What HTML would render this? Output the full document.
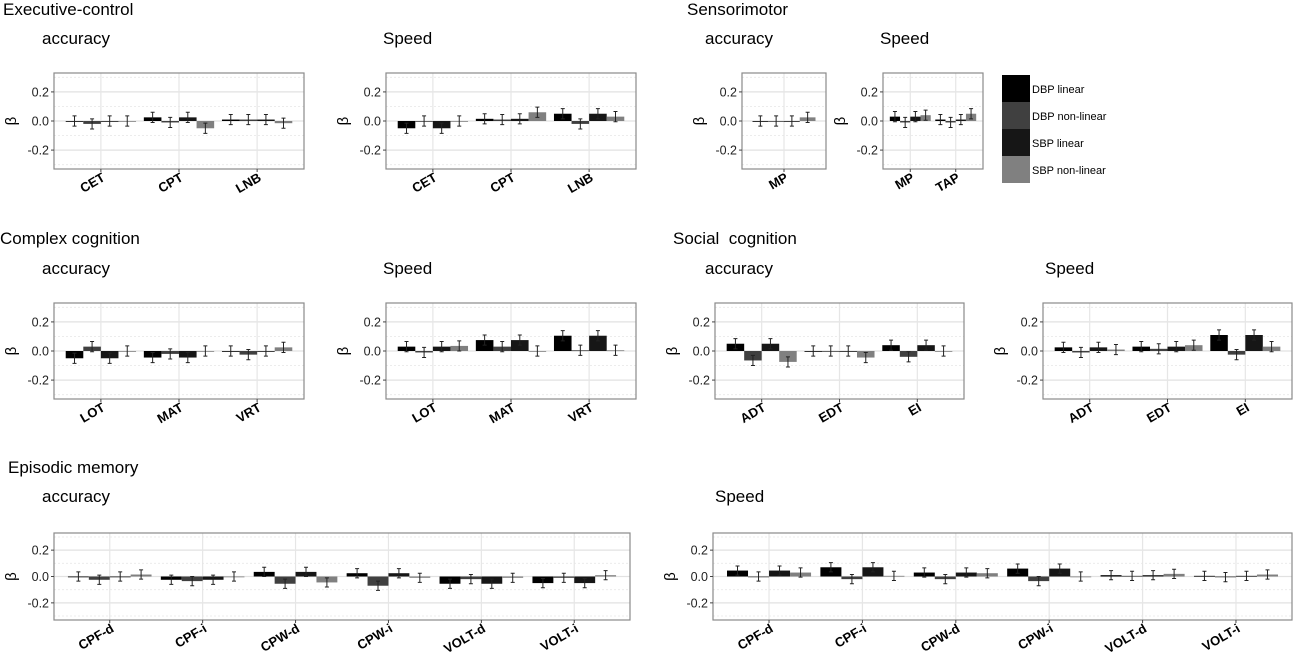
<!DOCTYPE html>
<html><head><meta charset="utf-8"><style>
html,body{margin:0;padding:0;background:#fff;}
svg{display:block;font-family:"Liberation Sans",Arial,sans-serif;}
</style></head><body>
<svg id="c" width="1300" height="656" viewBox="0 0 1300 656">
<g font-size="17" fill="#000">
<text x="3" y="15">Executive-control</text>
<text x="42" y="44">accuracy</text>
<text x="383" y="44">Speed</text>
<text x="687" y="15">Sensorimotor</text>
<text x="705" y="44">accuracy</text>
<text x="880" y="44">Speed</text>
<text x="0" y="244">Complex cognition</text>
<text x="42" y="274">accuracy</text>
<text x="383" y="274">Speed</text>
<text x="673" y="244" xml:space="preserve">Social  cognition</text>
<text x="705" y="274">accuracy</text>
<text x="1045" y="274">Speed</text>
<text x="8" y="473">Episodic memory</text>
<text x="42" y="502">accuracy</text>
<text x="715" y="502">Speed</text>
</g>
<g id="legend">
<rect x="1002" y="75" width="28" height="27" fill="#000"/>
<rect x="1002" y="102" width="28" height="27" fill="#404040"/>
<rect x="1002" y="129" width="28" height="27" fill="#161616"/>
<rect x="1002" y="156" width="28" height="27" fill="#808080"/>
<g font-size="11">
<text x="1032" y="93">DBP linear</text>
<text x="1032" y="120">DBP non-linear</text>
<text x="1032" y="147">SBP linear</text>
<text x="1032" y="174">SBP non-linear</text>
</g></g>
</svg>
<script>
const seriesNames=["dbp-linear","dbp-nonlinear","sbp-linear","sbp-nonlinear"];
const seriesColors=["#000","#404040","#161616","#808080"];
const yTicks=[-0.2,0,0.2];
const yTickLabels=["-0.2","0.0","0.2"];
const errHalf=0.035;

const execAccCats=["CET","CPT","LNB"];
const execAccDbpLin=[0,0.025,0.01];
const execAccDbpNl=[-0.02,-0.01,0.01];
const execAccSbpLin=[0,0.025,0.01];
const execAccSbpNl=[0,-0.05,-0.015];

const execSpdCats=["CET","CPT","LNB"];
const execSpdDbpLin=[-0.05,0.015,0.05];
const execSpdDbpNl=[0,0.01,-0.02];
const execSpdSbpLin=[-0.05,0.015,0.05];
const execSpdSbpNl=[0,0.06,0.03];

const senAccCats=["MP"];
const senAccDbpLin=[0];
const senAccDbpNl=[0];
const senAccSbpLin=[0];
const senAccSbpNl=[0.025];

const senSpdCats=["MP","TAP"];
const senSpdDbpLin=[0.03,0.01];
const senSpdDbpNl=[-0.01,-0.01];
const senSpdSbpLin=[0.03,0.01];
const senSpdSbpNl=[0.04,0.05];

const cplxAccCats=["LOT","MAT","VRT"];
const cplxAccDbpLin=[-0.05,-0.045,0];
const cplxAccDbpNl=[0.03,-0.02,-0.025];
const cplxAccSbpLin=[-0.05,-0.045,0];
const cplxAccSbpNl=[0,0,0.025];

const cplxSpdCats=["LOT","MAT","VRT"];
const cplxSpdDbpLin=[0.03,0.075,0.105];
const cplxSpdDbpNl=[-0.01,0.03,0.005];
const cplxSpdSbpLin=[0.03,0.075,0.105];
const cplxSpdSbpNl=[0.035,0,0.005];

const socAccCats=["ADT","EDT","EI"];
const socAccDbpLin=[0.05,0,0.04];
const socAccDbpNl=[-0.065,0,-0.04];
const socAccSbpLin=[0.05,0,0.04];
const socAccSbpNl=[-0.075,-0.045,0];

const socSpdCats=["ADT","EDT","EI"];
const socSpdDbpLin=[0.025,0.03,0.11];
const socSpdDbpNl=[-0.01,0.015,-0.025];
const socSpdSbpLin=[0.025,0.03,0.11];
const socSpdSbpNl=[0.01,0.04,0.03];

const epiAccCats=["CPF-d","CPF-i","CPW-d","CPW-i","VOLT-d","VOLT-i"];
const epiAccDbpLin=[0,-0.025,0.035,0.025,-0.055,-0.05];
const epiAccDbpNl=[-0.025,-0.035,-0.055,-0.07,-0.02,-0.01];
const epiAccSbpLin=[0,-0.025,0.035,0.025,-0.055,-0.05];
const epiAccSbpNl=[0.015,0,-0.045,-0.01,-0.01,0.01];

const epiSpdCats=["CPF-d","CPF-i","CPW-d","CPW-i","VOLT-d","VOLT-i"];
const epiSpdDbpLin=[0.045,0.07,0.03,0.06,0.01,0.005];
const epiSpdDbpNl=[0,-0.02,-0.02,-0.035,0.005,-0.005];
const epiSpdSbpLin=[0.045,0.07,0.03,0.06,0.01,0.005];
const epiSpdSbpNl=[0.03,0.005,0.025,0,0.02,0.015];

const panels=[
 {name:"exec-accuracy",x0:54,x1:304,y0:73,y1:169,cats:execAccCats,series:[execAccDbpLin,execAccDbpNl,execAccSbpLin,execAccSbpNl]},
 {name:"exec-speed",x0:386,x1:636,y0:73,y1:169,cats:execSpdCats,series:[execSpdDbpLin,execSpdDbpNl,execSpdSbpLin,execSpdSbpNl]},
 {name:"sensorimotor-accuracy",x0:742,x1:826,y0:73,y1:169,cats:senAccCats,series:[senAccDbpLin,senAccDbpNl,senAccSbpLin,senAccSbpNl]},
 {name:"sensorimotor-speed",x0:883,x1:983,y0:73,y1:169,cats:senSpdCats,series:[senSpdDbpLin,senSpdDbpNl,senSpdSbpLin,senSpdSbpNl]},
 {name:"complex-accuracy",x0:54,x1:304,y0:303,y1:399,cats:cplxAccCats,series:[cplxAccDbpLin,cplxAccDbpNl,cplxAccSbpLin,cplxAccSbpNl]},
 {name:"complex-speed",x0:386,x1:636,y0:303,y1:399,cats:cplxSpdCats,series:[cplxSpdDbpLin,cplxSpdDbpNl,cplxSpdSbpLin,cplxSpdSbpNl]},
 {name:"social-accuracy",x0:715,x1:964,y0:303,y1:399,cats:socAccCats,series:[socAccDbpLin,socAccDbpNl,socAccSbpLin,socAccSbpNl]},
 {name:"social-speed",x0:1043,x1:1292,y0:303,y1:399,cats:socSpdCats,series:[socSpdDbpLin,socSpdDbpNl,socSpdSbpLin,socSpdSbpNl]},
 {name:"episodic-accuracy",x0:54,x1:630,y0:533,y1:620,cats:epiAccCats,series:[epiAccDbpLin,epiAccDbpNl,epiAccSbpLin,epiAccSbpNl]},
 {name:"episodic-speed",x0:713,x1:1292,y0:533,y1:620,cats:epiSpdCats,series:[epiSpdDbpLin,epiSpdDbpNl,epiSpdSbpLin,epiSpdSbpNl]}
];

const NS="http://www.w3.org/2000/svg";
const svg=document.getElementById("c");
function mk(tag,attrs,parent){const e=document.createElementNS(NS,tag);for(const k in attrs)e.setAttribute(k,attrs[k]);parent.appendChild(e);return e;}

panels.forEach(p=>{
 const g=mk("g",{},svg);
 
 
 const yMin=-0.33,yMax=0.33;
 const yS=v=>p.y1-(v-yMin)/(yMax-yMin)*(p.y1-p.y0);
 const n=p.cats.length, unit=(p.x1-p.x0)/(n-1+1.2);
 const xS=i=>p.x0+(0.6+i)*unit;
 mk("rect",{x:p.x0,y:p.y0,width:p.x1-p.x0,height:p.y1-p.y0,fill:"#fff"},g);
 [-0.3,-0.1,0.1,0.3].forEach(v=>mk("line",{x1:p.x0,x2:p.x1,y1:yS(v),y2:yS(v),stroke:"#ececec","stroke-width":1,"stroke-dasharray":"2,2"},g));
 yTicks.forEach(v=>mk("line",{x1:p.x0,x2:p.x1,y1:yS(v),y2:yS(v),stroke:"#e2e2e2","stroke-width":1.2},g));
 p.cats.forEach((c,i)=>mk("line",{x1:xS(i),x2:xS(i),y1:p.y0,y2:p.y1,stroke:"#e6e6e6","stroke-width":1.2},g));
 const bw=unit*0.225;
 p.series.forEach((vals,s)=>{
  vals.forEach((v,i)=>{
   const cx=xS(i)-unit*0.45+bw*(s+0.5);
   const top=Math.min(yS(v),yS(0)), h=Math.max(Math.abs(yS(v)-yS(0)),0.8);
   const r=mk("rect",{x:cx-bw/2,y:top,width:bw,height:h,fill:seriesColors[s]},g);
   
   
   const eh=mk("path",{d:`M${cx-2} ${yS(v+errHalf)}H${cx+2}M${cx} ${yS(v+errHalf)}V${yS(v-errHalf)}M${cx-2} ${yS(v-errHalf)}H${cx+2}`,stroke:"#222","stroke-width":1,fill:"none"},g);
   
   
  });
 });
 mk("rect",{x:p.x0,y:p.y0,width:p.x1-p.x0,height:p.y1-p.y0,fill:"none",stroke:"#8a8a8a","stroke-width":1.2},g);
 yTicks.forEach((v,k)=>{
  mk("line",{x1:p.x0-3,x2:p.x0,y1:yS(v),y2:yS(v),stroke:"#444"},g);
  const t=mk("text",{x:p.x0-5,y:yS(v)+4.5,"text-anchor":"end","font-size":12.5,fill:"#222"},g);
  t.textContent=yTickLabels[k];
  
  
 });
 const yl=mk("text",{x:0,y:0,"font-size":15,"text-anchor":"middle",transform:`translate(${p.x0-38},${yS(0)}) rotate(-90)`},g);
 yl.textContent="β";
 
 
 p.cats.forEach((c,i)=>{
  mk("line",{x1:xS(i),x2:xS(i),y1:p.y1,y2:p.y1+3,stroke:"#444"},g);
  const t=mk("text",{x:0,y:0,"font-size":13,"font-weight":"bold","text-anchor":"end",transform:`translate(${xS(i)+5},${p.y1+11}) rotate(-30)`},g);
  t.textContent=c;
  
  
 });
});
</script>
</body></html>
